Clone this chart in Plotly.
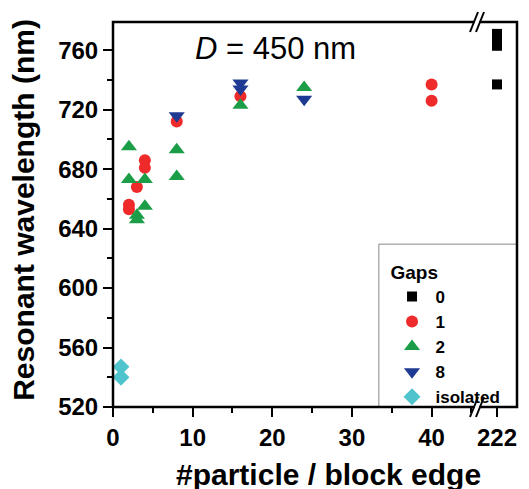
import plotly.graph_objects as go

# ---- data ----
gap0_x = [222, 222, 222, 222]
gap0_y = [771, 767, 763, 737]
gap1_x = [2, 2, 3, 4, 4, 8, 16, 40, 40]
gap1_y = [656, 653, 668, 686, 681, 712, 729, 737, 726]
gap2_x = [2, 2, 3, 3, 4, 4, 8, 8, 16, 24]
gap2_y = [695, 673, 649, 646, 673, 655, 693, 675, 723, 735]
gap8_x = [8, 16, 16, 24]
gap8_y = [716, 738, 734, 727]
iso_x = [1, 1]
iso_y = [547, 540]

y_ticks = [520, 560, 600, 640, 680, 720, 760]
x_ticks = [0, 10, 20, 30, 40]
x2_ticks = [222]

FONT = "Liberation Sans"
C0, C1, C2, C8, CI = "#000000", "#ee2a2a", "#1c9e48", "#1f3a92", "#4fc4cc"

fig = go.Figure()
fig.add_trace(go.Scatter(x=gap0_x, y=gap0_y, mode="markers", name="0", xaxis="x2", yaxis="y",
                         marker=dict(symbol="square", size=10, color=C0)))
fig.add_trace(go.Scatter(x=gap1_x, y=gap1_y, mode="markers", name="1",
                         marker=dict(symbol="circle", size=12, color=C1)))
fig.add_trace(go.Scatter(x=gap2_x, y=gap2_y, mode="markers", name="2",
                         marker=dict(symbol="triangle-up", size=14, color=C2)))
fig.add_trace(go.Scatter(x=gap8_x, y=gap8_y, mode="markers", name="8",
                         marker=dict(symbol="triangle-down", size=14, color=C8)))
fig.add_trace(go.Scatter(x=iso_x, y=iso_y, mode="markers", name="isolated",
                         marker=dict(symbol="diamond", size=13, color=CI)))

tickfont = dict(family=FONT, size=24, color="black", weight="bold")
BRK = 0.901
PX, PY = 404.0, 385.0

fig.update_layout(
    width=529, height=489,
    margin=dict(l=113, r=12, t=22, b=82, autoexpand=False),
    paper_bgcolor="white", plot_bgcolor="white",
    showlegend=True,
    legend=dict(
        title=dict(text="Gaps", font=dict(family=FONT, size=19, color="black", weight="bold")),
        font=dict(family=FONT, size=17, color="black", weight="bold"),
        x=0.682, xanchor="left", y=0.397, yanchor="top",
        bgcolor="rgba(0,0,0,0)", borderwidth=0,
        tracegroupgap=0, itemwidth=37,
    ),
    xaxis=dict(domain=[0, BRK], range=[0, 45.7], tickvals=x_ticks,
               ticks="outside", ticklen=9, tickwidth=2, tickcolor="black",
               minor=dict(dtick=5, tick0=0, ticks="outside", ticklen=5, tickwidth=2, tickcolor="black"),
               showline=False, showgrid=False, zeroline=False, tickfont=tickfont, anchor="y"),
    xaxis2=dict(domain=[BRK, 1], range=[219.5, 224.5], tickvals=x2_ticks,
                ticks="outside", ticklen=9, tickwidth=2, tickcolor="black",
                showline=False, showgrid=False, zeroline=False, tickfont=tickfont, anchor="y"),
    yaxis=dict(range=[520, 779], tickvals=y_ticks,
               ticks="outside", ticklen=9, tickwidth=2, tickcolor="black",
               minor=dict(dtick=20, tick0=520, ticks="outside", ticklen=5, tickwidth=2, tickcolor="black"),
               showline=False, showgrid=False, zeroline=False, tickfont=tickfont),
)

# plot frame
fig.add_shape(type="rect", xref="paper", yref="paper", x0=0, x1=1, y0=0, y1=1,
              line=dict(color="black", width=2.5), layer="above")
# legend box
fig.add_shape(type="rect", xref="paper", yref="paper", x0=0.658, x1=1, y0=0, y1=0.423,
              line=dict(color="#888888", width=1), layer="below")

# axis break marks (top and bottom)
for yb in (0.0, 1.0):
    fig.add_shape(type="rect", xref="paper", yref="paper",
                  x0=BRK - 2.5 / PX, x1=BRK + 2.5 / PX, y0=yb - 2.5 / PY, y1=yb + 2.5 / PY,
                  line=dict(width=0), fillcolor="white", layer="above")
    for dx in (-3, 3):
        fig.add_shape(type="line", xref="paper", yref="paper",
                      x0=BRK + (dx - 4) / PX, y0=yb - 10 / PY,
                      x1=BRK + (dx + 4) / PX, y1=yb + 10 / PY,
                      line=dict(color="black", width=2), layer="above")

fig.add_annotation(xref="paper", yref="paper", x=0.401, y=0.932, xanchor="center", yanchor="middle",
                   showarrow=False,
                   text="<i>D</i> = 450 nm", font=dict(family=FONT, size=31, color="black"))
fig.add_annotation(xref="paper", yref="paper", x=0.533, y=-0.176, xanchor="center", yanchor="middle",
                   showarrow=False,
                   text="#particle / block edge",
                   font=dict(family=FONT, size=30, color="black", weight="bold"))
fig.add_annotation(xref="paper", yref="paper", x=-0.222, y=0.513, xanchor="center", yanchor="middle",
                   showarrow=False, textangle=-90,
                   text="Resonant wavelength (nm)",
                   font=dict(family=FONT, size=30, color="black", weight="bold"))

fig.write_html("out.html", config={"displayModeBar": False},
               post_script="document.body.style.margin='0';document.body.style.overflow='hidden';")
